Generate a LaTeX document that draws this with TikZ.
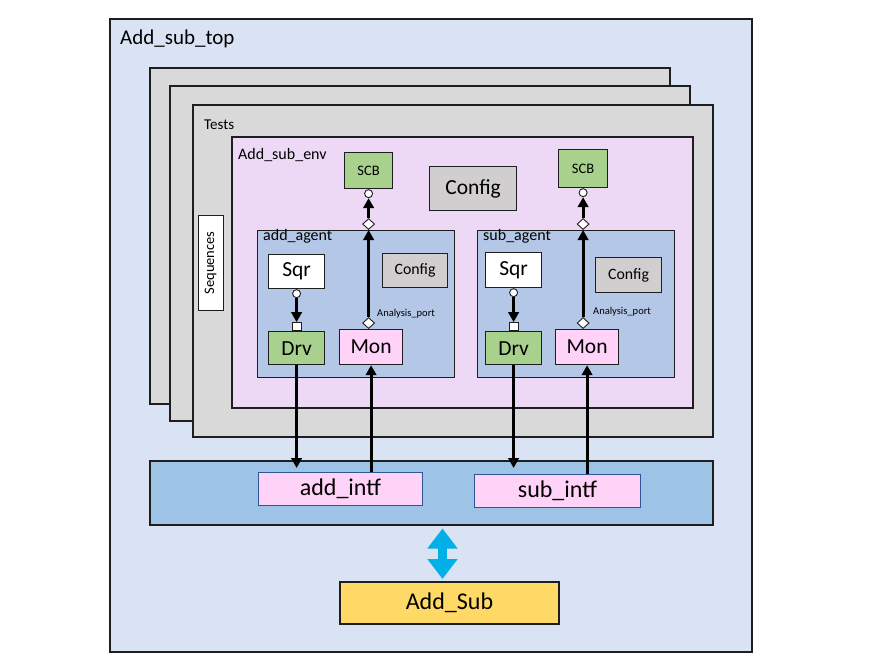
\documentclass[tikz,border=0pt]{standalone}
\usepackage{fontspec}
\setmainfont{Carlito}
\usetikzlibrary{arrows.meta,shapes.geometric,calc}

\definecolor{topbg}{HTML}{DAE3F3}
\definecolor{testbg}{HTML}{D9D9D9}
\definecolor{envbg}{HTML}{EDD9F6}
\definecolor{agentbg}{HTML}{B4C7E7}
\definecolor{cfgbg}{HTML}{D0CECE}
\definecolor{grn}{HTML}{A9D18E}
\definecolor{pnk}{HTML}{FFD3F8}
\definecolor{bandbg}{HTML}{9DC3E6}
\definecolor{ylw}{HTML}{FFD966}
\definecolor{cyanarr}{HTML}{00B0E6}
\definecolor{intfborder}{HTML}{2F5597}
\definecolor{edge}{HTML}{1E1E1E}

\newcommand{\fs}[1]{\fontsize{#1}{#1}\selectfont}

\tikzset{
  frame/.style={draw=edge, line width=2pt, anchor=north west, inner sep=0pt},
  blk/.style={draw=edge, line width=1.2pt, anchor=north west, inner sep=0pt, text=black},
  lbl/.style={anchor=base west, inner sep=0pt, text=black},
  portc/.style={circle, draw=edge, fill=white, line width=0.9pt, minimum size=8, inner sep=0pt},
  portd/.style={diamond, draw=edge, fill=white, line width=0.9pt, minimum width=12, minimum height=11, inner sep=0pt},
  portsq/.style={rectangle, draw=edge, fill=white, line width=0.9pt, minimum width=9, minimum height=8, inner sep=0pt},
  conn/.style={draw=black, line width=3pt, -{Triangle[length=10pt,width=10.5pt]}},
  dbl/.style={draw=cyanarr, line width=9pt, {Triangle[length=20pt,width=29pt]}-{Triangle[length=20pt,width=29pt]}},
}

\begin{document}
\begin{tikzpicture}[x=1pt,y=-1pt]
\useasboundingbox (0,0) rectangle (881,667);

% outer container
\node[frame, fill=topbg, minimum width=642, minimum height=633] (top) at (109,18) {};
\node[lbl, font=\fs{21}] (ltop) at (120,44) {Add\_sub\_top};

% stacked test boxes
\node[frame, fill=testbg, minimum width=520, minimum height=336] (t1) at (149,67) {};
\node[frame, fill=testbg, minimum width=520, minimum height=335] (t2) at (169,85) {};
\node[frame, fill=testbg, minimum width=520, minimum height=332] (t3) at (192,104) {};
\node[lbl, font=\fs{15}] (ltests) at (204,129) {Tests};

% sequences
\node[blk, fill=white, line width=1pt, minimum width=25, minimum height=95] (seq) at (197.5,215) {};
\node[rotate=90, inner sep=0pt, font=\fs{14.5}] (lseq) at (seq.center) {Sequences};

% env
\node[frame, fill=envbg, minimum width=461, minimum height=271] (env) at (230.5,136) {};
\node[lbl, font=\fs{16}] (lenv) at (238,159.5) {Add\_sub\_env};

\node[blk, fill=cfgbg, minimum width=87, minimum height=44, font=\fs{21.5}] (cfgenv) at (429,166) {Config};
\node[blk, fill=grn, minimum width=48, minimum height=36, font=\fs{14.5}] (scbL) at (344,152) {SCB};
\node[blk, fill=grn, minimum width=49, minimum height=38, font=\fs{14.5}] (scbR) at (558,149) {SCB};

% add agent
\node[blk, fill=agentbg, minimum width=197, minimum height=147] (agL) at (257,230) {};
\node[lbl, font=\fs{16}] (lagL) at (263,240.5) {add\_agent};
\node[blk, fill=white, minimum width=56, minimum height=34, font=\fs{21.5}] (sqrL) at (268,254) {Sqr};
\node[blk, fill=cfgbg, minimum width=65, minimum height=34, font=\fs{15.8}] (cfgL) at (382,253) {Config};
\node[blk, fill=grn, minimum width=56, minimum height=33, font=\fs{21.5}] (drvL) at (268,331) {Drv};
\node[blk, fill=pnk, minimum width=63, minimum height=35, font=\fs{21.5}] (monL) at (339,329) {Mon};
\node[lbl, font=\fs{10.5}] (apL) at (377,316) {Analysis\_port};

% sub agent
\node[blk, fill=agentbg, minimum width=197, minimum height=147] (agR) at (477,230) {};
\node[lbl, font=\fs{16}] (lagR) at (483,240.5) {sub\_agent};
\node[blk, fill=white, minimum width=56, minimum height=35, font=\fs{21.5}] (sqrR) at (485,252) {Sqr};
\node[blk, fill=cfgbg, minimum width=66, minimum height=35, font=\fs{15.8}] (cfgR) at (595,257) {Config};
\node[blk, fill=grn, minimum width=56, minimum height=33, font=\fs{21.5}] (drvR) at (485,331) {Drv};
\node[blk, fill=pnk, minimum width=63, minimum height=35, font=\fs{21.5}] (monR) at (555,329) {Mon};
\node[lbl, font=\fs{10.5}] (apR) at (593,314) {Analysis\_port};

% interface band
\node[frame, fill=bandbg, minimum width=563, minimum height=64] (band) at (149,460) {};
\node[blk, fill=pnk, draw=intfborder, line width=0.9pt, minimum width=164, minimum height=33, font=\fs{24}] (intfL) at (258,472) {add\_intf};
\node[blk, fill=pnk, draw=intfborder, line width=0.9pt, minimum width=166, minimum height=33, font=\fs{24}] (intfR) at (474,474) {sub\_intf};

% DUT
\node[frame, fill=ylw, minimum width=219, minimum height=42, font=\fs{24}] (dut) at (339,581) {Add\_Sub};

% ports left
\node[portc, anchor=north] (scbLc) at (scbL.south) {};
\node[portd, anchor=south] (agLd) at (agL.north -| scbL.south) {};
\node[portd, anchor=south] (monLd) at (monL.north -| scbL.south) {};
\node[portc, anchor=north] (sqrLc) at (sqrL.south) {};
\node[portsq, anchor=south] (drvLs) at (drvL.north) {};

% ports right
\node[portc, anchor=north] (scbRc) at (scbR.south) {};
\node[portd, anchor=south] (agRd) at (agR.north -| scbR.south) {};
\node[portd, anchor=south] (monRd) at (monR.north -| scbR.south) {};
\node[portc, anchor=north] (sqrRc) at (sqrR.south) {};
\node[portsq, anchor=south] (drvRs) at (drvR.north) {};

% connectors left
\draw[conn] (sqrLc) -- (drvLs);
\draw[conn] (monLd) -- (agLd);
\draw[conn] (agLd) -- (scbLc);
\draw[conn, shorten >=4pt] (drvL.south) -- (drvL.south |- intfL.north);
\draw[conn] (monL.south |- intfL.north) -- (monL.south);

% connectors right
\draw[conn] (sqrRc) -- (drvRs);
\draw[conn] (monRd) -- (agRd);
\draw[conn] (agRd) -- (scbRc);
\draw[conn, shorten >=6pt] (drvR.south) -- (drvR.south |- intfR.north);
\draw[conn] (monR.south |- intfR.north) -- (monR.south);

% bidirectional arrow
\coordinate (arrx) at (442.5,0);
\draw[dbl, shorten <=2.5pt, shorten >=2pt] (band.south -| arrx) -- (dut.north -| arrx);
\end{tikzpicture}
\end{document}
